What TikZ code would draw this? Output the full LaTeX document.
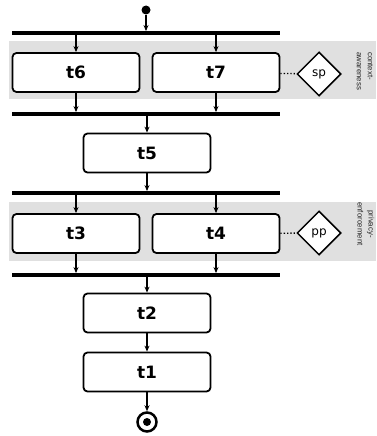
\documentclass[tikz,border=0pt]{standalone}
\usepackage{fontspec}
\setmainfont{DejaVu Sans}
\newfontfamily\notefont{Liberation Sans}
\usetikzlibrary{arrows.meta,shapes.geometric}

\tikzset{
  task/.style={draw,fill=white,rounded corners=4pt,line width=1.8pt,minimum width=127pt,
    minimum height=39pt,font=\bfseries\fontsize{17}{20}\selectfont},
  bar/.style={fill=black,inner sep=0pt,minimum width=268pt,minimum height=3.5pt},
  gate/.style={diamond,draw,fill=white,line width=1.5pt,minimum size=44pt,
    inner sep=0pt,font=\fontsize{12}{14}\selectfont},
  flow/.style={-{Stealth[length=6pt,width=5pt]},line width=1.3pt},
  note/.style={rotate=-90,inner sep=0pt,text=black!85,font=\notefont\fontsize{7.8}{11}\selectfont}
}

\begin{document}
\begin{tikzpicture}[x=1pt,y=-1pt]

      \useasboundingbox (0,0) rectangle (377,436);

      \fill[black!12] (9,41) rectangle (376,99);
      \fill[black!12] (9,202) rectangle (376,261);

      \node[circle,fill,inner sep=0pt,minimum size=9pt] (start) at (146,10) {};

      \begin{scope}[every node/.style={bar}]
        \node (bar1) at (146,33)  {};
        \node (bar2) at (146,114) {};
        \node (bar3) at (146,193) {};
        \node (bar4) at (146,275) {};
      \end{scope}

      \begin{scope}[every node/.style={task}]
        \node (t6) at (76,72.5)  {t6};
        \node (t7) at (216,72.5) {t7};
        \node (t5) at (147,153)  {t5};
        \node (t3) at (76,233.5) {t3};
        \node (t4) at (216,233.5){t4};
        \node (t2) at (147,313)  {t2};
        \node (t1) at (147,372)  {t1};
      \end{scope}

      \node[gate] (sp) at (319,74)  {sp};
      \node[gate] (pp) at (319,233) {pp};

      \node[note,align=left,anchor=north west] (context) at (373,52) {context-\\awareness};
      \node[note,align=center] (privacy) at (366,224) {privacy-\\enforcement};

      \node[circle,draw,line width=2.5pt,inner sep=0pt,minimum size=19pt] (end) at (147,422) {};
      \fill (end) circle (4pt);

      \begin{scope}[every path/.style={flow}]
        \draw (start) -- (start |- bar1.north);
        \draw (bar1.south -| t6) -- (t6);
        \draw (bar1.south -| t7) -- (t7);
        \draw (t6) -- (t6 |- bar2.north);
        \draw (t7) -- (t7 |- bar2.north);
        \draw (bar2.south -| t5) -- (t5);
        \draw (t5) -- (t5 |- bar3.north);
        \draw (bar3.south -| t3) -- (t3);
        \draw (bar3.south -| t4) -- (t4);
        \draw (t3) -- (t3 |- bar4.north);
        \draw (t4) -- (t4 |- bar4.north);
        \draw (bar4.south -| t2) -- (t2);
        \draw (t2) -- (t1);
        \draw (t1) -- (end);
      \end{scope}

      \begin{scope}[every path/.style={dotted,line width=1.3pt}]
        \draw (t7) -- (sp);
        \draw (t4) -- (pp);
      \end{scope}

    \end{tikzpicture}
\end{document}
